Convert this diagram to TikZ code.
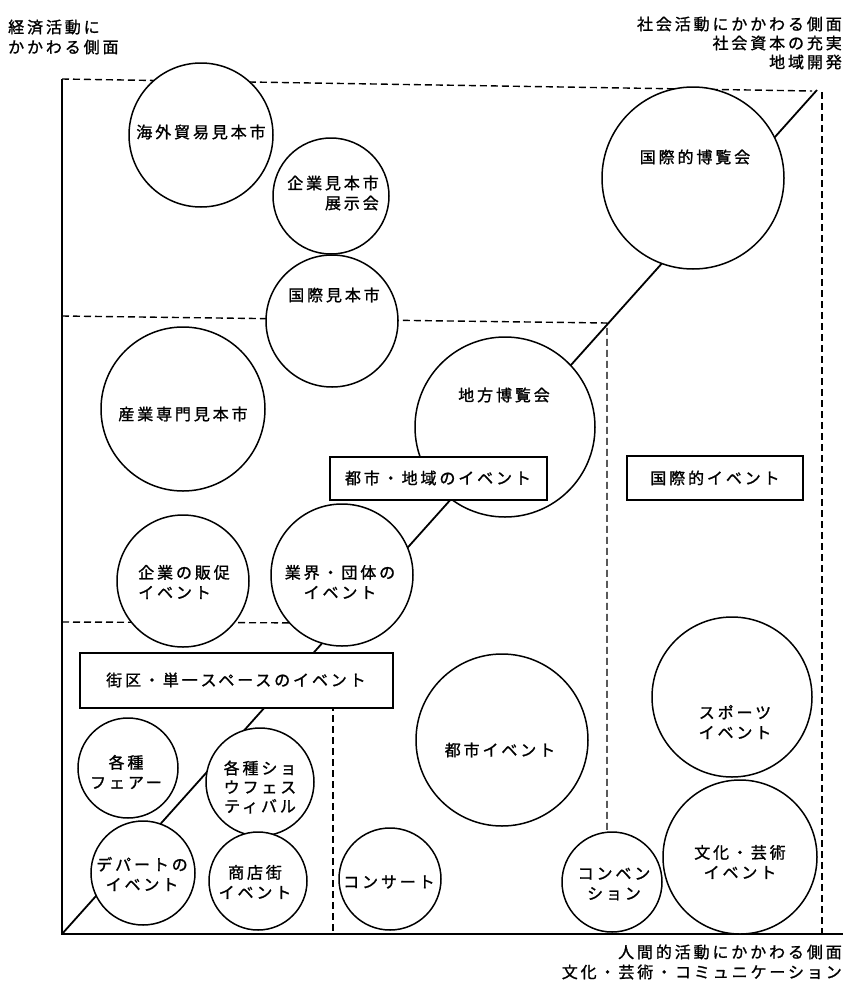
\documentclass[tikz,border=0pt]{standalone}
\usepackage{fontspec}
\setmainfont{Noto Sans CJK JP}[LetterSpace=18,FakeBold=1.2]
\begin{document}
\begin{tikzpicture}[x=1pt,y=-1pt,
  circ/.style={circle,draw,line width=1.5pt,fill=white,inner sep=0pt},
  box/.style={rectangle,draw,line width=1.6pt,fill=white,inner sep=0pt},
  txt/.style={font=\fontsize{16}{20}\selectfont,inner sep=0pt,align=center},
  lbl/.style={font=\fontsize{16}{20}\selectfont,inner sep=0pt},
  axis/.style={line width=1.8pt},
  guide/.style={line width=1.4pt,dash pattern=on 7pt off 4pt}]
\useasboundingbox (0,0) rectangle (845,983);
% frame coordinates
\coordinate (o) at (62,934);
\coordinate (ytop) at (62,79);
\coordinate (xend) at (843,934);
\coordinate (tr) at (817,90);
\coordinate (td) at (812,91);
\coordinate (rt) at (822,92);
\coordinate (rb) at (822,934);
\coordinate (m1) at (62,316);
\coordinate (m2) at (607,323);
\coordinate (m3) at (607,934);
\coordinate (l1) at (62,622);
\coordinate (l2) at (330,623);
\coordinate (v1) at (333,660);
\coordinate (v2) at (333,934);
% axes and guides
\draw[axis] (ytop) -- (o) -- (xend);
\draw[axis] (o) -- (tr);
\draw[guide] (ytop) -- (td);
\draw[guide] (rt) -- (rb);
\draw[guide] (m1) -- (m2) -- (m3);
\draw[guide] (l1) -- (l2);
\draw[guide] (v1) -- (v2);
% circles
\node[circ,minimum size=144pt] (c1) at (201,135) {};
\node[circ,minimum size=116pt] (c2) at (331,196) {};
\node[circ,minimum size=132pt] (c3) at (332,321) {};
\node[circ,minimum size=182pt] (c4) at (693,178) {};
\node[circ,minimum size=164pt] (c5) at (183,409) {};
\node[circ,minimum size=180pt] (c6) at (505,427) {};
\node[circ,minimum size=132pt] (c7) at (183,581) {};
\node[circ,minimum size=142pt] (c8) at (342,575) {};
\node[circ,minimum size=100pt] (c9) at (128,768) {};
\node[circ,minimum size=108pt] (c10) at (260,782) {};
\node[circ,minimum size=104pt] (c11) at (143,873) {};
\node[circ,minimum size=98pt] (c12) at (258,881) {};
\node[circ,minimum size=102pt] (c13) at (390,879) {};
\node[circ,minimum size=172pt] (c14) at (502,740) {};
\node[circ,minimum size=160pt] (c15) at (732,697) {};
\node[circ,minimum size=100pt] (c16) at (612,882) {};
\node[circ,minimum size=154pt] (c17) at (740,857) {};
% boxes
\node[box,minimum width=217pt,minimum height=43pt] (b1) at (438.5,478.5) {};
\node[box,minimum width=176pt,minimum height=44pt] (b2) at (715,478) {};
\node[box,minimum width=313pt,minimum height=55pt] (b3) at (236.5,680.5) {};
% texts
\node[txt] (t1) at (201,132) {海外貿易見本市};
\node[txt,align=right] (t2) at (333,193) {企業見本市\\展示会};
\node[txt] (t3) at (334,295) {国際見本市};
\node[txt] (t4) at (695,157) {国際的博覧会};
\node[txt] (t5) at (183,414) {産業専門見本市};
\node[txt] (t6) at (504,395) {地方博覧会};
\node[txt] (tb1) at (438,478) {都市・地域のイベント};
\node[txt] (tb2) at (715,478) {国際的イベント};
\node[txt] (tb3) at (236,680) {街区・単一スペースのイベント};
\node[txt,align=left] (t7) at (184,582) {企業の販促\\イベント};
\node[txt] (t8) at (340,582) {業界・団体の\\イベント};
\node[txt] (t9) at (126,772) {各種\\フェアー};
\node[txt,font=\fontsize{16}{19}\selectfont] (t10) at (260,787) {各種ショ\\ウフェス\\ティバル};
\node[txt] (t11) at (142,874) {デパートの\\イベント};
\node[txt] (t12) at (255,882) {商店街\\イベント};
\node[txt] (t13) at (389,882) {コンサート};
\node[txt] (t14) at (500,750) {都市イベント};
\node[txt] (t15) at (735,722) {スポーツ\\イベント};
\node[txt] (t16) at (614,884) {コンベン\\ション};
\node[txt] (t17) at (740,862) {文化・芸術\\イベント};
% axis labels
\node[lbl,align=left,anchor=west] (ax1) at (8,37) {経済活動に\\かかわる側面};
\node[lbl,align=right,anchor=east,font=\fontsize{16}{19}\selectfont] (ax2) at (842,43) {社会活動にかかわる側面\\社会資本の充実\\地域開発};
\node[lbl,align=right,anchor=east] (ax3) at (842,962) {人間的活動にかかわる側面\\文化・芸術・コミュニケーション};
\end{tikzpicture}
\end{document}
